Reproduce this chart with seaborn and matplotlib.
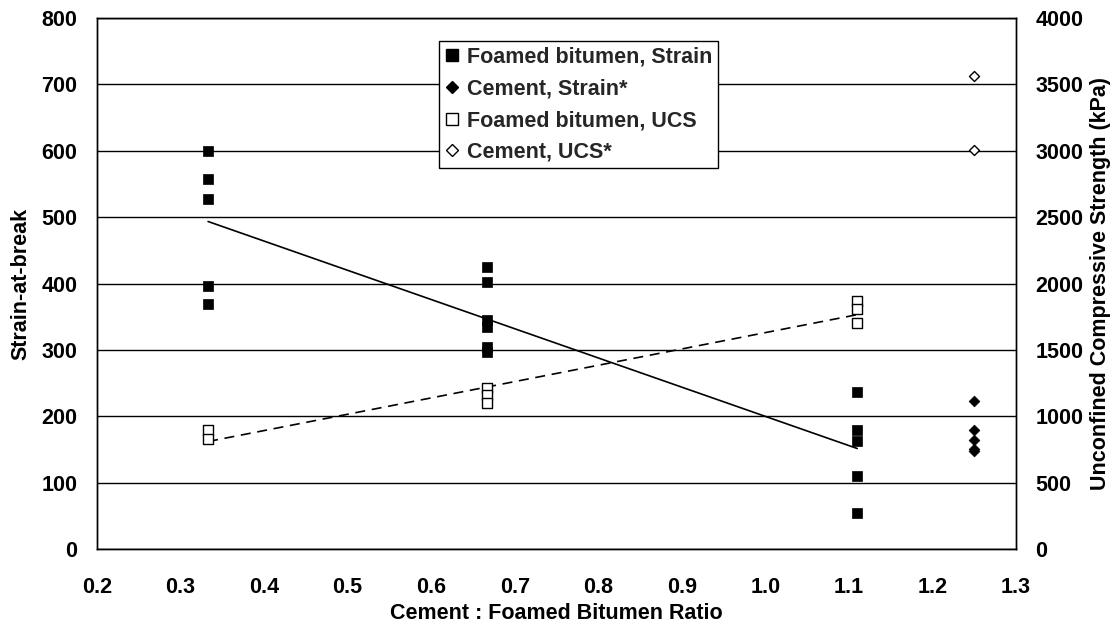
import numpy as np
import pandas as pd
import matplotlib
matplotlib.use("Agg")
import matplotlib.pyplot as plt
import seaborn as sns

# Cement : foamed bitumen ratios and measured values
fb_strain_x = [0.333] * 5 + [0.667] * 6 + [1.11] * 5
fb_strain_y = [600, 557, 527, 397, 369,
               425, 403, 345, 335, 305, 297,
               236, 180, 163, 110, 55]

cem_strain_x = [1.25] * 5
cem_strain_y = [223, 179, 165, 150, 148]

fb_ucs_x = [0.333] * 2 + [0.667] * 3 + [1.11] * 3
fb_ucs_y = [900, 830,
            1210, 1160, 1100,
            1870, 1810, 1700]

cem_ucs_x = [1.25] * 2
cem_ucs_y = [3565, 3010]

x_ticks = [0.2, 0.3, 0.4, 0.5, 0.6, 0.7, 0.8, 0.9, 1.0, 1.1, 1.2, 1.3]
left_ticks = list(range(0, 801, 100))
right_ticks = list(range(0, 4001, 500))

sns.set_theme(style="white")
plt.rcParams["font.family"] = ["Liberation Sans", "DejaVu Sans"]
plt.rcParams["font.weight"] = "bold"

TICK_FS = 15.5
LABEL_FS = 15.5

fig = plt.figure(figsize=(11.2, 6.32), dpi=100)
ax = fig.add_axes([0.0866, 0.1313, 0.8205, 0.840])
ax2 = ax.twinx()

fb_strain = pd.DataFrame({"ratio": fb_strain_x, "value": fb_strain_y})
cem_strain = pd.DataFrame({"ratio": cem_strain_x, "value": cem_strain_y})
fb_ucs = pd.DataFrame({"ratio": fb_ucs_x, "value": fb_ucs_y})
cem_ucs = pd.DataFrame({"ratio": cem_ucs_x, "value": cem_ucs_y})

# Strain series on the left axis
sns.scatterplot(data=fb_strain, x="ratio", y="value", ax=ax, marker="s",
                color="black", edgecolor="black", s=52, linewidth=0.5, zorder=4)
sns.scatterplot(data=cem_strain, x="ratio", y="value", ax=ax, marker="D",
                color="black", edgecolor="black", s=30, linewidth=0.5, zorder=4)
sns.regplot(data=fb_strain, x="ratio", y="value", ax=ax, scatter=False, ci=None,
            truncate=True, line_kws={"color": "black", "lw": 1.2, "zorder": 3})

# UCS series on the right axis
sns.scatterplot(data=fb_ucs, x="ratio", y="value", ax=ax2, marker="s",
                facecolor="white", edgecolor="black", s=48, linewidth=1.0, zorder=4)
sns.scatterplot(data=cem_ucs, x="ratio", y="value", ax=ax2, marker="D",
                facecolor="white", edgecolor="black", s=26, linewidth=1.0, zorder=4)
sns.regplot(data=fb_ucs, x="ratio", y="value", ax=ax2, scatter=False, ci=None,
            truncate=True, line_kws={"color": "black", "lw": 1.2, "ls": (0, (6, 4)),
                                      "zorder": 3})

ax.set_xlim(0.2, 1.3)
ax.set_ylim(0, 800)
ax2.set_ylim(0, 4000)
ax.set_xticks(x_ticks)
ax.set_xticklabels([f"{t:.1f}" for t in x_ticks])
ax.set_yticks(left_ticks)
ax2.set_yticks(right_ticks)

ax.yaxis.grid(True, color="black", lw=1.0)
ax.xaxis.grid(False)
ax2.grid(False)
ax.set_axisbelow(True)

for a in (ax, ax2):
    for sp in a.spines.values():
        sp.set_color("black")
        sp.set_linewidth(1.0)
    a.tick_params(axis="both", labelsize=TICK_FS, length=0, pad=14, colors="black")
    for lbl in a.get_xticklabels() + a.get_yticklabels():
        lbl.set_fontweight("bold")

ax.tick_params(axis="x", pad=20)
ax.set_xlabel("Cement : Foamed Bitumen Ratio", fontsize=LABEL_FS, fontweight="bold",
              labelpad=4, color="black")
ax.set_ylabel("Strain-at-break", fontsize=LABEL_FS, fontweight="bold",
              labelpad=7, color="black")
ax2.set_ylabel("Unconfined Compressive Strength (kPa)", fontsize=LABEL_FS,
               fontweight="bold", labelpad=5, color="black")

handles = [
    plt.Line2D([], [], marker="s", ls="none", mfc="black", mec="black", ms=8.5),
    plt.Line2D([], [], marker="D", ls="none", mfc="black", mec="black", ms=6),
    plt.Line2D([], [], marker="s", ls="none", mfc="white", mec="black", ms=8, mew=1.0),
    plt.Line2D([], [], marker="D", ls="none", mfc="white", mec="black", ms=6, mew=1.0),
]
labels = ["Foamed bitumen, Strain", "Cement, Strain*",
          "Foamed bitumen, UCS", "Cement, UCS*"]
leg = ax2.legend(handles, labels, loc="upper left", bbox_to_anchor=(0.3721, 0.9567),
                 frameon=True, fancybox=False, edgecolor="black", framealpha=1,
                 prop={"size": LABEL_FS, "weight": "bold"}, handlelength=0.7,
                 handletextpad=0.35, borderpad=0.25, labelspacing=0.5,
                 borderaxespad=0)
leg.get_frame().set_linewidth(1.0)

fig.savefig("out.png", dpi=100)
